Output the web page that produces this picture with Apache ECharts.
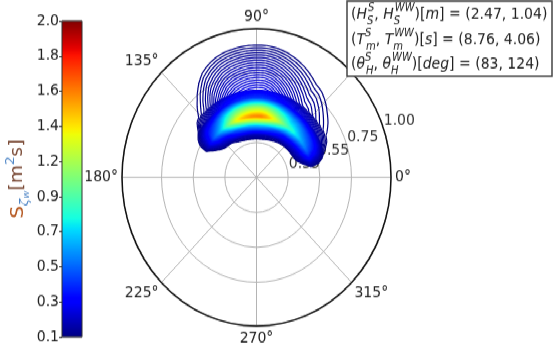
<!DOCTYPE html>
<html>
<head>
<meta charset="utf-8">
<script src="https://cdn.jsdelivr.net/npm/echarts@6/dist/echarts.min.js"></script>
<style>
  html, body { margin: 0; padding: 0; background: #fff; width: 553px; height: 349px; }
  /* the reference figure is stretched vertically, so draw it flat and stretch it the same way */
  #chart { width: 553px; height: 316px; transform: scaleY(1.105); transform-origin: 0 0; }
</style>
</head>
<body>
<div id="chart"></div>
<script>
// directional spreading read along the peak frequency (1 = mean direction)
const directions = [0, 5, 10, 15, 20, 25, 30, 35, 40, 45, 50, 55, 60, 65, 70, 75, 80, 85, 90,
  95, 100, 105, 110, 115, 120, 125, 130, 135, 140, 145, 150, 155, 160, 165, 170, 175, 180];
const spreading = [0.01, 0.03, 0.065, 0.14, 0.24, 0.32, 0.37, 0.41, 0.45, 0.5, 0.55, 0.58, 0.65,
  0.73, 0.81, 0.89, 0.96, 1.0, 1.0, 0.99, 0.96, 0.92, 0.86, 0.77, 0.67, 0.55, 0.45, 0.38, 0.32,
  0.22, 0.13, 0.065, 0.03, 0.01, 0, 0, 0];

// spectral density along the mean direction [m^2 s]
const frequencies = [0.15, 0.2, 0.25, 0.3, 0.35, 0.4, 0.45, 0.5, 0.55, 0.6, 0.65, 0.7, 0.75, 0.8,
  0.85, 0.9, 0.95, 1.0];
const energy = [0, 0, 0, 0.005, 0.03, 0.2, 0.68, 1.55, 1.1, 0.45, 0.28, 0.245, 0.21, 0.175,
  0.14, 0.105, 0.07, 0.04];

const ringValues = [0.15, 0.35, 0.55, 0.75, 1.0];
const colorbarLabels = ['0.1', '0.3', '0.5', '0.7', '0.9', '1.2', '1.4', '1.6', '1.8', '2.0'];

const legendSymbols = ['H', 'T', 'θ'];
const legendSubs = ['S', 'm', 'H'];
const legendUnits = ['m', 's', 'deg'];
const swellValues = [2.47, 8.76, 83];
const windSeaValues = [1.04, 4.06, 124];

const levelMin = 0.1, levelMax = 2.0, levelStep = 0.01;

// matplotlib jet
function jet(t) {
  const seg = {
    r: [[0, 0], [0.35, 0], [0.66, 1], [0.89, 1], [1, 0.5]],
    g: [[0, 0], [0.125, 0], [0.375, 1], [0.64, 1], [0.91, 0], [1, 0]],
    b: [[0, 0.5], [0.11, 1], [0.34, 1], [0.65, 0], [1, 0]]
  };
  const ch = s => {
    for (let k = 1; k < s.length; k++) {
      if (t <= s[k][0]) {
        const u = (t - s[k - 1][0]) / (s[k][0] - s[k - 1][0]);
        return Math.round(255 * (s[k - 1][1] + u * (s[k][1] - s[k - 1][1])));
      }
    }
    return Math.round(255 * s[s.length - 1][1]);
  };
  return 'rgb(' + ch(seg.r) + ',' + ch(seg.g) + ',' + ch(seg.b) + ')';
}
const jetColors = [];
for (let k = 0; k <= 64; k++) jetColors.push(jet(k / 64));

// spectrum on the grid and its contour lines (marching squares)
const field = directions.map((d, i) => frequencies.map((f, j) => spreading[i] * energy[j]));
const levels = [];
for (let v = levelMin; v <= levelMax + 1e-9; v += levelStep) levels.push(+v.toFixed(2));

function contourSegments(level) {
  const segs = [];
  for (let i = 0; i < directions.length - 1; i++) {
    for (let j = 0; j < frequencies.length - 1; j++) {
      const pts = [[i, j], [i + 1, j], [i + 1, j + 1], [i, j + 1]];
      const v = pts.map(p => field[p[0]][p[1]]);
      const cross = [];
      for (let e = 0; e < 4; e++) {
        const p = pts[e], q = pts[(e + 1) % 4];
        const vp = v[e], vq = v[(e + 1) % 4];
        if ((vp >= level) !== (vq >= level)) {
          const t = (level - vp) / (vq - vp);
          cross.push([
            directions[p[0]] + t * (directions[q[0]] - directions[p[0]]),
            frequencies[p[1]] + t * (frequencies[q[1]] - frequencies[p[1]])
          ]);
        } else {
          cross.push(null);
        }
      }
      const hits = cross.filter(c => c);
      if (hits.length === 2) {
        segs.push(hits);
      } else if (hits.length === 4) {
        const mid = (v[0] + v[1] + v[2] + v[3]) / 4;
        if ((mid >= level) === (v[0] >= level)) {
          segs.push([cross[0], cross[1]], [cross[2], cross[3]]);
        } else {
          segs.push([cross[3], cross[0]], [cross[1], cross[2]]);
        }
      }
    }
  }
  return segs;
}
const contours = levels.map(contourSegments);

function renderContour(params, api) {
  const segs = contours[params.dataIndex];
  if (!segs.length) return null;
  let d = '';
  segs.forEach(([a, b]) => {
    for (let k = 0; k <= 4; k++) {
      const t = k / 4;
      const p = api.coord([a[1] + t * (b[1] - a[1]), a[0] + t * (b[0] - a[0])]);
      d += (k ? 'L' : 'M') + p[0].toFixed(2) + ' ' + p[1].toFixed(2);
    }
  });
  return {
    type: 'path',
    shape: { pathData: d },
    style: { stroke: api.visual('color'), fill: 'none', lineWidth: 1.2 }
  };
}

function renderColorbar(params, api) {
  const cs = params.coordSys;
  return {
    type: 'rect',
    shape: { x: cs.x, y: cs.y, width: cs.width, height: cs.height },
    style: {
      fill: new echarts.graphic.LinearGradient(0, 1, 0, 0,
        jetColors.map((c, k) => ({ offset: k / (jetColors.length - 1), color: c }))),
      stroke: '#333',
      lineWidth: 1
    }
  };
}

// legend text, sub- and superscripts stacked: the narrower one takes no width
const ctx = document.createElement('canvas').getContext('2d');
ctx.font = 'italic 10px "DejaVu Sans"';
function scripts(sub, sup) {
  return ctx.measureText(sub).width <= ctx.measureText(sup).width
    ? '{sb0|' + sub + '}{sp|' + sup + '}'
    : '{sp0|' + sup + '}{sb|' + sub + '}';
}
const legendLines = legendSymbols.map((s, k) =>
  '{n|(}{i|' + s + '}' + scripts(legendSubs[k], 'S') + '{n|, }{i|' + s + '}' +
  scripts(legendSubs[k], 'WW') + '{n|)[}{i|' + legendUnits[k] + '}{n|] = (' +
  swellValues[k] + ', ' + windSeaValues[k] + ')}');

const legendRich = {
  n: { fontSize: 14, lineHeight: 22, fontFamily: 'DejaVu Sans', color: '#222' },
  i: { fontSize: 14, lineHeight: 22, fontFamily: 'DejaVu Sans', fontStyle: 'italic', color: '#222' },
  sp: { fontSize: 10, lineHeight: 12, verticalAlign: 'top', fontStyle: 'italic', fontFamily: 'DejaVu Sans', color: '#222' },
  sb: { fontSize: 10, lineHeight: 12, verticalAlign: 'bottom', fontStyle: 'italic', fontFamily: 'DejaVu Sans', color: '#222' }
};
legendRich.sp0 = Object.assign({}, legendRich.sp, { width: 1 });
legendRich.sb0 = Object.assign({}, legendRich.sb, { width: 1 });

const chart = echarts.init(document.getElementById('chart'), null, { renderer: 'canvas' });

chart.setOption({
  animation: false,
  textStyle: { fontFamily: 'DejaVu Sans' },
  grid: { left: 62, top: 19, width: 20, height: 286 },
  xAxis: { type: 'value', min: 0, max: 1, show: false },
  yAxis: {
    type: 'category',
    data: colorbarLabels,
    boundaryGap: false,
    axisLine: { show: false },
    axisTick: { show: true, length: 3, interval: 0, lineStyle: { color: '#333' } },
    axisLabel: { interval: 0, fontSize: 14, margin: 3, color: '#222' },
    splitLine: { show: false },
    name: '{s|S}{z|ζ}{w|w}{n|[m}{p|2}{n|s]}',
    nameLocation: 'middle',
    nameRotate: 90,
    nameGap: 31,
    nameTextStyle: {
      rich: {
        s: { fontSize: 18, lineHeight: 26, color: '#b4561e', fontFamily: 'DejaVu Sans' },
        z: { fontSize: 12, lineHeight: 18, verticalAlign: 'bottom', color: '#4f86c6', fontStyle: 'italic' },
        w: { fontSize: 9, lineHeight: 12, verticalAlign: 'bottom', color: '#4f86c6', fontStyle: 'italic' },
        n: { fontSize: 17, lineHeight: 26, color: '#7a4a36', fontFamily: 'DejaVu Sans' },
        p: { fontSize: 12, lineHeight: 16, verticalAlign: 'top', color: '#4f86c6' }
      }
    }
  },
  polar: [
    { center: [256.5, 160.6], radius: 134.5 },
    { center: [256.5, 160.6], radius: 134.5 }
  ],
  angleAxis: [
    {
      polarIndex: 0,
      type: 'value',
      min: 0,
      max: 360,
      interval: 45,
      startAngle: 0,
      clockwise: false,
      axisLine: { lineStyle: { color: '#111', width: 1.5 } },
      axisTick: { show: false },
      axisLabel: { formatter: v => v + '°', fontSize: 14, margin: 4, color: '#222' },
      splitLine: { lineStyle: { color: '#b4b4b4', width: 1 } }
    },
    {
      polarIndex: 1,
      type: 'value',
      min: 0,
      max: 360,
      startAngle: 22.5,
      clockwise: false,
      show: false
    }
  ],
  radiusAxis: [
    {
      polarIndex: 0,
      type: 'value',
      min: 0.15,
      max: 1.0,
      axisLine: { show: false },
      axisTick: { show: false, customValues: ringValues },
      axisLabel: { show: false, customValues: ringValues },
      splitLine: { show: true, lineStyle: { color: '#b4b4b4', width: 1 } }
    },
    {
      polarIndex: 1,
      type: 'value',
      min: 0.15,
      max: 1.0,
      axisLine: { show: false },
      axisTick: { show: false },
      splitLine: { show: false },
      axisLabel: {
        customValues: ringValues,
        formatter: v => v.toFixed(2),
        rotate: 0,
        align: 'left',
        verticalAlign: 'middle',
        margin: 0,
        padding: [0, 0, 0, 3],
        fontSize: 14,
        color: '#333'
      }
    }
  ],
  visualMap: {
    type: 'continuous',
    show: false,
    min: levelMin,
    max: levelMax,
    dimension: 0,
    seriesIndex: 1,
    inRange: { color: jetColors }
  },
  series: [
    {
      type: 'custom',
      xAxisIndex: 0,
      yAxisIndex: 0,
      data: [[0.5, 0]],
      renderItem: renderColorbar,
      silent: true
    },
    {
      type: 'custom',
      coordinateSystem: 'polar',
      polarIndex: 0,
      data: levels.map(l => [l, 90]),
      renderItem: renderContour,
      silent: true
    }
  ],
  graphic: [
    {
      type: 'rect',
      z: 100,
      zlevel: 1,
      shape: { x: 347, y: 1, width: 205, height: 68 },
      style: { fill: '#fff', stroke: '#444', lineWidth: 1.5 }
    }
  ].concat(legendLines.map((t, k) => ({
    type: 'text',
    z: 101,
    zlevel: 1,
    x: 351,
    y: 13.6 + k * 22.6,
    style: { text: t, rich: legendRich, verticalAlign: 'middle', fill: '#222' }
  })))
});
</script>
</body>
</html>
